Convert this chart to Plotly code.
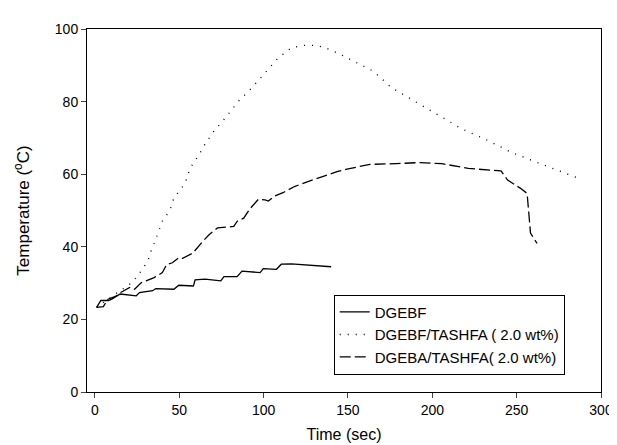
import plotly.graph_objects as go

# DGEBF (solid)
dgebf_t = [1, 3.5, 8, 10, 15, 24.5, 26.4, 34.2, 36.1, 46.8, 49.7, 58.4, 59.4, 65.3,
           74.6, 76.5, 84.3, 87.2, 97.9, 99.8, 107.6, 110.5, 116.4, 128, 140]
dgebf_T = [23.3, 25.2, 25.2, 25.6, 27.0, 26.5, 27.4, 27.9, 28.5, 28.3, 29.4, 29.2, 30.9, 31.1,
           30.6, 31.8, 31.8, 33.3, 32.9, 34.0, 33.8, 35.2, 35.3, 34.9, 34.5]

# DGEBF/TASHFA (2.0 wt%) (dotted)
dgebf_tas_t = [1, 6, 13.4, 20.2, 24.5, 27, 31.3, 33.2, 34.8, 40.4, 42.9, 44.9, 46.8, 51.7,
               53.6, 55.5, 58, 62, 64, 70.7, 77.5, 85.3, 93, 100.8, 108.6, 116.4, 124, 130,
               135.8, 145.5, 165, 175.6, 203.8, 217.4, 232.9, 246.5, 264, 285.4]
dgebf_tas_T = [23.3, 25.0, 27.4, 29.5, 31.5, 33.1, 36.0, 38.8, 40.5, 47.6, 49.0, 50.6, 53.4, 56.4,
               57.7, 60.4, 62.9, 65.5, 67.4, 72.0, 75.6, 80.2, 83.8, 87.9, 92.0, 94.8, 95.5, 95.5,
               95.0, 93.0, 88.4, 83.9, 76.1, 72.5, 69.3, 66.1, 62.9, 59.1]

# DGEBA/TASHFA (2.0 wt%) (dashed)
dgeba_tas_t = [1, 5, 7.5, 12.8, 15.3, 20.6, 23.5, 27.4, 30.3, 35.1, 40, 42.5, 45.9, 49.7, 52,
               58.1, 63.9, 67.8, 72.7, 78.5, 82.3, 84.3, 88.2, 92.1, 96.9, 100.8, 102.8, 106.6,
               111.5, 118.3, 122.2, 130, 135.8, 143.5, 149.4, 163, 178.6, 192.1, 205.7, 221.3,
               240.7, 244.6, 252.3, 256.2, 257.2, 258.2, 262.1]
dgeba_tas_T = [23.3, 23.5, 25.5, 26.5, 27.4, 28.8, 28.3, 30.1, 30.6, 31.5, 32.9, 35.1, 35.6, 37.0, 36.8,
               38.3, 41.5, 43.4, 45.2, 45.4, 45.6, 47.0, 47.9, 50.6, 53.1, 52.9, 52.6, 54.0,
               54.9, 56.6, 57.3, 58.6, 59.5, 60.7, 61.4, 62.7, 62.9, 63.2, 62.9, 61.6,
               60.9, 58.4, 56.1, 54.7, 49.3, 43.8, 40.9]

x_ticks = [0, 50, 100, 150, 200, 250, 300]
y_ticks = [0, 20, 40, 60, 80, 100]

FONT = "Liberation Sans, Arial, sans-serif"

fig = go.Figure()
fig.add_trace(go.Scatter(x=dgebf_t, y=dgebf_T, mode="lines", name="DGEBF",
                         line=dict(color="black", width=1.3, dash="solid")))
fig.add_trace(go.Scatter(x=dgebf_tas_t, y=dgebf_tas_T, mode="lines", name="DGEBF/TASHFA ( 2.0 wt%)",
                         line=dict(color="black", width=1.4, dash="1px,7px")))
fig.add_trace(go.Scatter(x=dgeba_tas_t, y=dgeba_tas_T, mode="lines", name="DGEBA/TASHFA( 2.0 wt%)",
                         line=dict(color="black", width=1.3, dash="11px,4px")))

fig.update_layout(
    width=617, height=445,
    margin=dict(l=79, r=15, t=21, b=58),
    paper_bgcolor="white", plot_bgcolor="white",
    font=dict(family=FONT, color="black", size=14),
    showlegend=True,
    legend=dict(x=0.48, y=0.268, xanchor="left", yanchor="top",
                bordercolor="black", borderwidth=1, bgcolor="white",
                font=dict(size=15, family=FONT), tracegroupgap=0),
)
fig.update_xaxes(range=[-4.7, 300], tickvals=x_ticks, ticks="outside", ticklen=5,
                 showline=True, linecolor="black", linewidth=1, mirror=True,
                 showgrid=False, zeroline=False, tickfont=dict(size=14),
                 title=dict(text="Time (sec)", font=dict(size=16), standoff=12))
fig.update_yaxes(range=[0, 100], tickvals=y_ticks, ticks="outside", ticklen=5,
                 showline=True, linecolor="black", linewidth=1, mirror=True,
                 showgrid=False, zeroline=False, tickfont=dict(size=14),
                 title=dict(text="Temperature (<sup>o</sup>C)", font=dict(size=17), standoff=20))

fig.write_html("out.html")
